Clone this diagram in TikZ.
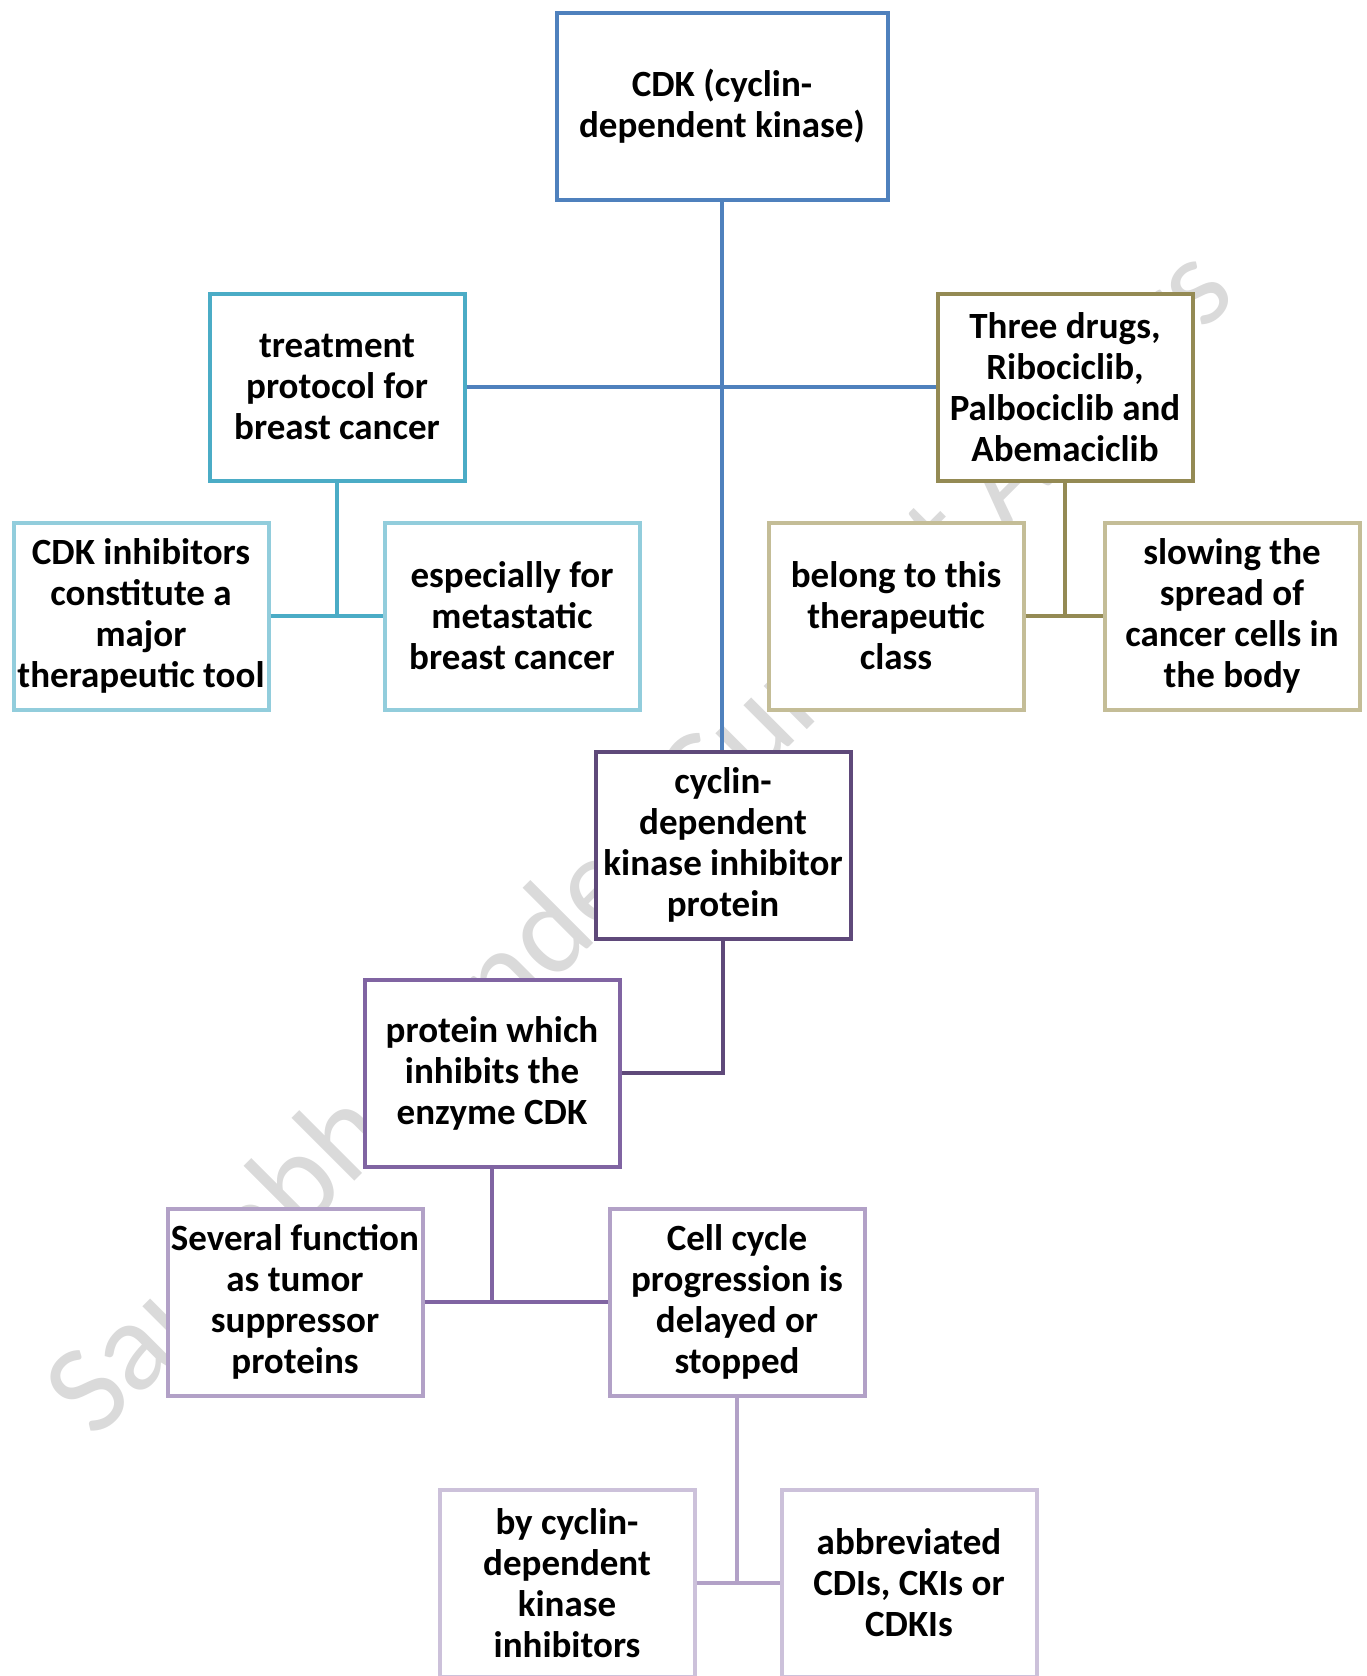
\documentclass[tikz,border=0pt]{standalone}
\usepackage{fontspec}
\setmainfont{Carlito}
\usetikzlibrary{positioning}

\definecolor{cdkblue}{HTML}{4F81BD}
\definecolor{tealdark}{HTML}{4BACC6}
\definecolor{teallight}{HTML}{92CDDC}
\definecolor{olivedark}{HTML}{948A54}
\definecolor{olivelight}{HTML}{C4BD97}
\definecolor{purpdark}{HTML}{5F497A}
\definecolor{purpmid}{HTML}{8064A2}
\definecolor{purplight}{HTML}{B2A1C7}
\definecolor{purppale}{HTML}{CCC1DA}
\definecolor{markgray}{HTML}{DADADA}

\begin{document}
\begin{tikzpicture}[x=1pt,y=-1pt,
  box/.style={draw=#1, line width=4pt, fill=white, align=center, inner sep=0pt,
    minimum width=255pt, minimum height=187pt,
    font=\bfseries\fontsize{37}{41}\selectfont},
  conn/.style={draw=#1, line width=4pt}]
\useasboundingbox (0,0) rectangle (1367,1676);

% watermark
\node[rotate=45, text=markgray, font=\fontsize{128}{128}\selectfont] (mark) at (643,845) {Saurabh Pandey Current Affairs};

\node[box=cdkblue, minimum width=331pt] (cdk) at (722,106) {CDK (cyclin-\\dependent kinase)};
\node[box=tealdark] (treat) at (337,387) {treatment\\protocol for\\breast cancer};
\node[box=olivedark] (drugs) at (1065,387) {Three drugs,\\Ribociclib,\\Palbociclib and\\Abemaciclib};
\node[box=teallight] (tool) at (141,616) {CDK inhibitors\\constitute a\\major\\therapeutic tool};
\node[box=teallight] (meta) at (512,616) {especially for\\metastatic\\breast cancer};
\node[box=olivelight] (class) at (896,616) {belong to this\\therapeutic\\class};
\node[box=olivelight] (slow) at (1232,616) {slowing the\\spread of\\cancer cells in\\the body};
\node[box=purpdark] (cki) at (723,845) {cyclin-\\dependent\\kinase inhibitor\\protein};
\node[box=purpmid] (enzyme) at (492,1073) {protein which\\inhibits the\\enzyme CDK};
\node[box=purplight] (tumor) at (295,1302) {Several function\\as tumor\\suppressor\\proteins};
\node[box=purplight] (cycle) at (737,1302) {Cell cycle\\progression is\\delayed or\\stopped};
\node[box=purppale] (inhib) at (567,1583) {by cyclin-\\dependent\\kinase\\inhibitors};
\node[box=purppale] (abbr) at (909,1583) {abbreviated\\CDIs, CKIs or\\CDKIs};

% connectors
\draw[conn=cdkblue] (cdk.south) -- (cdk.south |- cki.north);
\draw[conn=cdkblue] (treat) -- (drugs);
\draw[conn=tealdark] (treat.south) -- (treat.south |- tool.east);
\draw[conn=tealdark] (tool) -- (meta);
\draw[conn=olivedark] (drugs.south) -- (drugs.south |- class.east);
\draw[conn=olivedark] (class) -- (slow);
\draw[conn=purpdark] (cki.south) |- (enzyme.east);
\draw[conn=purpmid] (enzyme.south) -- (enzyme.south |- tumor.east);
\draw[conn=purpmid] (tumor) -- (cycle);
\draw[conn=purplight] (cycle.south) -- (cycle.south |- inhib.east);
\draw[conn=purplight] (inhib) -- (abbr);
\end{tikzpicture}
\end{document}
